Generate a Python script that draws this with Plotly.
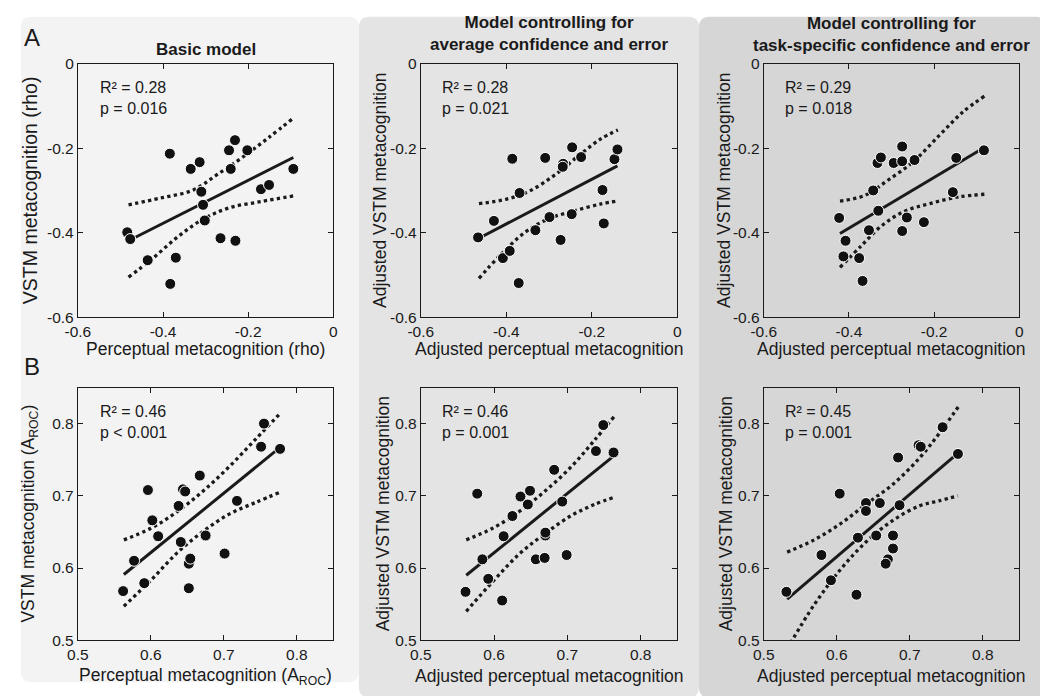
import plotly.graph_objects as go

# ---------------- data ----------------
A1_x = [-0.484, -0.477, -0.436, -0.384, -0.383, -0.370, -0.335, -0.314, -0.310, -0.306,
        -0.302, -0.265, -0.245, -0.241, -0.231, -0.230, -0.202, -0.170, -0.151, -0.094]
A1_y = [-0.399, -0.415, -0.465, -0.213, -0.521, -0.459, -0.249, -0.233, -0.303, -0.334,
        -0.371, -0.413, -0.205, -0.249, -0.181, -0.419, -0.205, -0.297, -0.287, -0.249]
A1_fit_x = [-0.481, -0.094]
A1_fit_y = [-0.419, -0.222]
A1_up_x = [-0.481, -0.406, -0.329, -0.275, -0.214, -0.152, -0.094]
A1_up_y = [-0.334, -0.318, -0.299, -0.264, -0.222, -0.175, -0.129]
A1_lo_x = [-0.481, -0.429, -0.367, -0.306, -0.244, -0.168, -0.094]
A1_lo_y = [-0.505, -0.465, -0.411, -0.368, -0.341, -0.326, -0.313]

A2_x = [-0.466, -0.429, -0.408, -0.392, -0.386, -0.369, -0.371, -0.332, -0.309, -0.299,
        -0.273, -0.267, -0.268, -0.246, -0.247, -0.225, -0.175, -0.172, -0.147, -0.140]
A2_y = [-0.411, -0.372, -0.460, -0.443, -0.225, -0.306, -0.519, -0.394, -0.223, -0.363,
        -0.417, -0.237, -0.244, -0.198, -0.356, -0.221, -0.299, -0.378, -0.226, -0.203]
A2_fit_x = [-0.464, -0.140]
A2_fit_y = [-0.413, -0.242]
A2_up_x = [-0.464, -0.401, -0.347, -0.286, -0.225, -0.179, -0.139]
A2_up_y = [-0.331, -0.321, -0.302, -0.263, -0.213, -0.178, -0.157]
A2_lo_x = [-0.464, -0.416, -0.355, -0.301, -0.240, -0.179, -0.139]
A2_lo_y = [-0.508, -0.455, -0.398, -0.367, -0.348, -0.332, -0.325]

A3_x = [-0.423, -0.408, -0.413, -0.376, -0.368, -0.353, -0.343, -0.333, -0.325, -0.331,
        -0.295, -0.275, -0.275, -0.275, -0.264, -0.246, -0.224, -0.156, -0.148, -0.083]
A3_y = [-0.365, -0.419, -0.456, -0.460, -0.514, -0.394, -0.300, -0.235, -0.222, -0.348,
        -0.235, -0.196, -0.231, -0.396, -0.364, -0.228, -0.375, -0.304, -0.223, -0.205]
A3_fit_x = [-0.421, -0.085]
A3_fit_y = [-0.402, -0.200]
A3_up_x = [-0.421, -0.363, -0.310, -0.248, -0.187, -0.133, -0.082]
A3_up_y = [-0.325, -0.312, -0.277, -0.231, -0.169, -0.115, -0.077]
A3_lo_x = [-0.421, -0.371, -0.325, -0.271, -0.210, -0.141, -0.082]
A3_lo_y = [-0.482, -0.431, -0.385, -0.350, -0.331, -0.315, -0.309]

B1_x = [0.562, 0.577, 0.591, 0.596, 0.602, 0.610, 0.638, 0.641, 0.644, 0.647,
        0.652, 0.652, 0.654, 0.667, 0.675, 0.701, 0.718, 0.751, 0.755, 0.777]
B1_y = [0.568, 0.610, 0.579, 0.708, 0.666, 0.644, 0.686, 0.636, 0.709, 0.706,
        0.572, 0.606, 0.613, 0.728, 0.645, 0.620, 0.693, 0.768, 0.800, 0.765]
B1_fit_x = [0.563, 0.777]
B1_fit_y = [0.591, 0.767]
B1_up_x = [0.563, 0.600, 0.636, 0.672, 0.708, 0.744, 0.777]
B1_up_y = [0.639, 0.655, 0.678, 0.707, 0.741, 0.779, 0.814]
B1_lo_x = [0.563, 0.600, 0.636, 0.672, 0.708, 0.744, 0.777]
B1_lo_y = [0.547, 0.583, 0.621, 0.651, 0.675, 0.691, 0.705]

B2_x = [0.561, 0.577, 0.584, 0.592, 0.611, 0.613, 0.625, 0.636, 0.646, 0.649,
        0.657, 0.669, 0.670, 0.670, 0.682, 0.693, 0.699, 0.739, 0.749, 0.763]
B2_y = [0.567, 0.703, 0.612, 0.585, 0.555, 0.644, 0.672, 0.699, 0.688, 0.707,
        0.612, 0.614, 0.645, 0.649, 0.736, 0.692, 0.618, 0.762, 0.798, 0.760]
B2_fit_x = [0.562, 0.763]
B2_fit_y = [0.590, 0.755]
B2_up_x = [0.562, 0.598, 0.634, 0.670, 0.706, 0.737, 0.764]
B2_up_y = [0.639, 0.655, 0.678, 0.707, 0.741, 0.777, 0.810]
B2_lo_x = [0.562, 0.598, 0.634, 0.670, 0.706, 0.737, 0.764]
B2_lo_y = [0.540, 0.581, 0.619, 0.648, 0.673, 0.688, 0.698]

B3_x = [0.531, 0.579, 0.592, 0.604, 0.627, 0.629, 0.640, 0.640, 0.654, 0.659,
        0.670, 0.667, 0.677, 0.677, 0.684, 0.686, 0.712, 0.715, 0.745, 0.766]
B3_y = [0.567, 0.618, 0.583, 0.703, 0.563, 0.642, 0.690, 0.679, 0.645, 0.690,
        0.612, 0.606, 0.645, 0.627, 0.753, 0.687, 0.770, 0.768, 0.795, 0.758]
B3_fit_x = [0.532, 0.766]
B3_fit_y = [0.557, 0.759]
B3_up_x = [0.532, 0.569, 0.606, 0.641, 0.677, 0.713, 0.740, 0.767]
B3_up_y = [0.622, 0.639, 0.662, 0.689, 0.716, 0.752, 0.786, 0.824]
B3_lo_x = [0.532, 0.569, 0.606, 0.641, 0.677, 0.713, 0.740, 0.766]
B3_lo_y = [0.488, 0.549, 0.599, 0.637, 0.666, 0.686, 0.693, 0.700]

R2_values = ["0.28", "0.28", "0.29", "0.46", "0.46", "0.45"]
p_values = ["= 0.016", "= 0.021", "= 0.018", "< 0.001", "= 0.001", "= 0.001"]

col_titles = ["<b>Basic model</b>",
              "<b>Model controlling for<br>average confidence and error</b>",
              "<b>Model controlling for<br>task-specific confidence and error</b>"]
x_titles = ["Perceptual metacognition (rho)", "Adjusted perceptual metacognition",
            "Adjusted perceptual metacognition",
            "Perceptual metacognition (A<sub>ROC</sub>)", "Adjusted perceptual metacognition",
            "Adjusted perceptual metacognition"]
y_titles = ["VSTM metacognition (rho)", "Adjusted VSTM metacognition",
            "Adjusted VSTM metacognition",
            "VSTM metacognition (A<sub>ROC</sub>)", "Adjusted VSTM metacognition",
            "Adjusted VSTM metacognition"]

rowA_ticks = [-0.6, -0.4, -0.2, 0]
rowA_ticktext = ["-0.6", "-0.4", "-0.2", "0"]
rowB_ticks = [0.5, 0.6, 0.7, 0.8]
rowB_ticktext = ["0.5", "0.6", "0.7", "0.8"]

# ---------------- layout helpers ----------------
W, H = 1040, 696
FONT = "Liberation Sans, Arial, Helvetica, sans-serif"
INK = "#1a1a1a"


def px(x):
    return x / W


def py(y):
    return 1 - y / H


panels = [
    (A1_x, A1_y, A1_fit_x, A1_fit_y, A1_up_x, A1_up_y, A1_lo_x, A1_lo_y),
    (A2_x, A2_y, A2_fit_x, A2_fit_y, A2_up_x, A2_up_y, A2_lo_x, A2_lo_y),
    (A3_x, A3_y, A3_fit_x, A3_fit_y, A3_up_x, A3_up_y, A3_lo_x, A3_lo_y),
    (B1_x, B1_y, B1_fit_x, B1_fit_y, B1_up_x, B1_up_y, B1_lo_x, B1_lo_y),
    (B2_x, B2_y, B2_fit_x, B2_fit_y, B2_up_x, B2_up_y, B2_lo_x, B2_lo_y),
    (B3_x, B3_y, B3_fit_x, B3_fit_y, B3_up_x, B3_up_y, B3_lo_x, B3_lo_y),
]

col_px = [(66, 326), (415, 676), (764, 1024)]
row_px = [(56, 316), (388, 647)]
ytitle_x = [18, 374, 724, 17, 376, 725]
ytitle_size = [19.5, 17.5, 17.5, 17.5, 17.5, 17.5]
xtitle_y = [349, 684]

fig = go.Figure()
layout = dict(
    width=W, height=H, autosize=False,
    margin=dict(l=0, r=0, t=0, b=0),
    paper_bgcolor="white", plot_bgcolor="rgba(0,0,0,0)",
    showlegend=False,
    font=dict(family=FONT, color=INK),
)
annotations = []

for i, (sx, sy, fx, fy, ux, uy, lx, ly) in enumerate(panels):
    r, c = divmod(i, 3)
    n = "" if i == 0 else str(i + 1)
    xa, ya = "x" + n, "y" + n
    for bx, by in ((ux, uy), (lx, ly)):
        fig.add_trace(go.Scatter(x=bx, y=by, mode="lines", xaxis=xa, yaxis=ya,
                                 line=dict(color=INK, width=3.3, dash="dot", shape="spline"),
                                 hoverinfo="skip"))
    fig.add_trace(go.Scatter(x=fx, y=fy, mode="lines", xaxis=xa, yaxis=ya,
                             line=dict(color=INK, width=3), hoverinfo="skip"))
    fig.add_trace(go.Scatter(x=sx, y=sy, mode="markers", xaxis=xa, yaxis=ya,
                             marker=dict(color="#111111", size=11,
                                         line=dict(color="white", width=1))))

    x0, x1 = col_px[c]
    y0, y1 = row_px[r]
    if r == 0:
        rng, tv, tt = [-0.6, 0], rowA_ticks, rowA_ticktext
    else:
        rng, tv, tt = [0.5, 0.85], rowB_ticks, rowB_ticktext
    common = dict(showline=True, linecolor=INK, linewidth=1, mirror="ticks",
                  ticks="inside", ticklen=5, tickcolor=INK, tickwidth=1,
                  showgrid=False, zeroline=False, fixedrange=True,
                  range=rng, tickvals=tv, ticktext=tt,
                  tickfont=dict(family=FONT, size=15.5, color=INK))
    layout["xaxis" + n] = dict(common, domain=[px(x0), px(x1)], anchor=ya)
    layout["yaxis" + n] = dict(common, domain=[py(y1), py(y0)], anchor=xa)

    annotations.append(dict(
        xref="paper", yref="paper", x=px(x0 + 20), y=py(y0 + 14),
        xanchor="left", yanchor="top", align="left", showarrow=False,
        text="R\u00b2 = " + R2_values[i] + "<br>p " + p_values[i],
        font=dict(family=FONT, size=16, color=INK)))
    annotations.append(dict(
        xref="paper", yref="paper", x=px((x0 + x1) / 2), y=py(xtitle_y[r]),
        xanchor="center", yanchor="middle", showarrow=False,
        text=x_titles[i], font=dict(family=FONT, size=17.5, color=INK)))
    annotations.append(dict(
        xref="paper", yref="paper", x=px(ytitle_x[i]), y=py((y0 + y1) / 2),
        xanchor="center", yanchor="middle", showarrow=False, textangle=-90,
        text=y_titles[i], font=dict(family=FONT, size=ytitle_size[i], color=INK)))

title_y = [42, 25, 26]
for c in range(3):
    x0, x1 = col_px[c]
    annotations.append(dict(
        xref="paper", yref="paper", x=px((x0 + x1) / 2), y=py(title_y[c]),
        xanchor="center", yanchor="middle", showarrow=False,
        text=col_titles[c], font=dict(family=FONT, size=17, color=INK)))

for letter, yy in (("A", 29), ("B", 366)):
    annotations.append(dict(
        xref="paper", yref="paper", x=px(19), y=py(yy),
        xanchor="center", yanchor="middle", showarrow=False,
        text=letter, font=dict(family=FONT, size=24, color=INK)))


def rounded_rect(x0, y0, x1, y1, rad):
    X = lambda v: f"{px(v):.5f}"
    Y = lambda v: f"{py(v):.5f}"
    return (f"M {X(x0 + rad)},{Y(y0)} L {X(x1 - rad)},{Y(y0)} "
            f"Q {X(x1)},{Y(y0)} {X(x1)},{Y(y0 + rad)} "
            f"L {X(x1)},{Y(y1 - rad)} Q {X(x1)},{Y(y1)} {X(x1 - rad)},{Y(y1)} "
            f"L {X(x0 + rad)},{Y(y1)} Q {X(x0)},{Y(y1)} {X(x0)},{Y(y1 - rad)} "
            f"L {X(x0)},{Y(y0 + rad)} Q {X(x0)},{Y(y0)} {X(x0 + rad)},{Y(y0)} Z")


bg_boxes = [((8, 8, 352, 690), "#f3f3f4"),
            ((352, 8, 698, 706), "#e4e4e4"),
            ((698, 8, 1052, 706), "#d6d6d6")]
shapes = []
for (a, b, cc, d), col in bg_boxes:
    shapes.append(dict(type="path", xref="paper", yref="paper", layer="below",
                       path=rounded_rect(a, b, cc, d, 11),
                       fillcolor=col, line=dict(width=0)))

layout["annotations"] = annotations
layout["shapes"] = shapes
fig.update_layout(**layout)

fig.write_html(
    "out.html",
    config={"displayModeBar": False, "staticPlot": True},
    post_script="document.body.style.margin='0px';"
                "document.documentElement.style.overflow='hidden';",
)
